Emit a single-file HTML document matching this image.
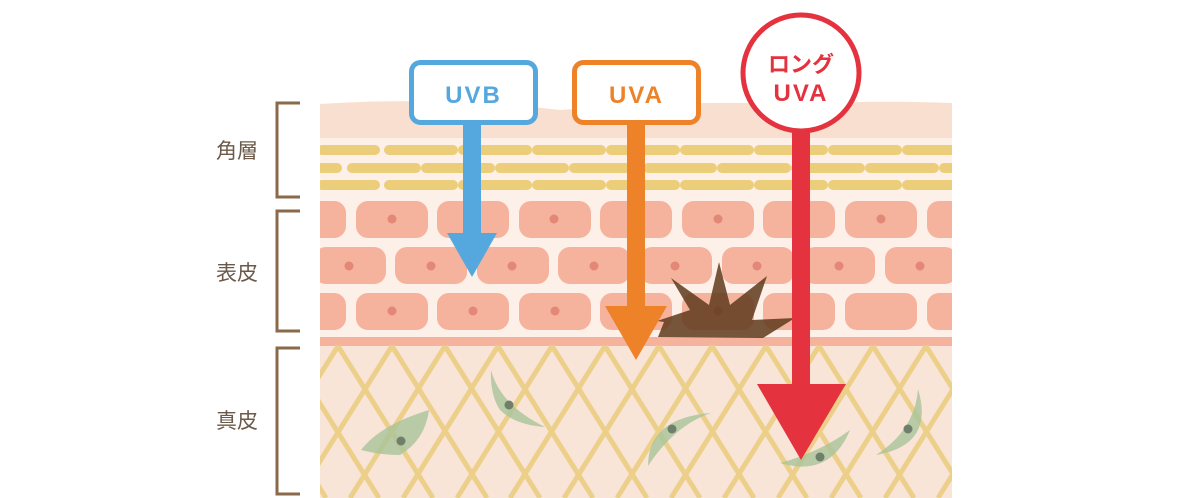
<!DOCTYPE html>
<html><head><meta charset="utf-8"><style>
html,body{margin:0;padding:0;background:#fff;}
svg{display:block;}
text{font-family:"Liberation Sans","Noto Sans CJK JP",sans-serif;}
</style></head><body>
<svg width="1188" height="498" viewBox="0 0 1188 498" xmlns="http://www.w3.org/2000/svg">
<defs>
<clipPath id="derm"><rect x="320" y="345" width="632" height="153"/></clipPath>
<clipPath id="skin"><rect x="320" y="0" width="632" height="498"/></clipPath>
</defs>
<path d="M320 104 Q450 96 560 110 Q680 100 800 104 Q880 100 952 103 L952 140 L320 140 Z" fill="#f9dfd0"/>
<rect x="320" y="138" width="632" height="199" fill="#fdf0e8"/>
<g clip-path="url(#skin)" stroke="#ecce7a" stroke-width="10" stroke-linecap="round">
<path d="M322 150H375M389 150H453M463 150H527M537 150H601M611 150H675M685 150H749M759 150H823M833 150H897M907 150H971" />
<path d="M300 168H337M352 168H416M426 168H490M500 168H564M574 168H638M648 168H712M722 168H786M796 168H860M870 168H934M944 168H1000"/>
<path d="M322 185H375M389 185H453M463 185H527M537 185H601M611 185H675M685 185H749M759 185H823M833 185H897M907 185H971"/>
</g>
<g clip-path="url(#skin)" fill="#f5b29c">
<g id="r1">
<rect x="274" y="201" width="72" height="37" rx="12"/><rect x="356" y="201" width="72" height="37" rx="12"/><rect x="437" y="201" width="72" height="37" rx="12"/><rect x="519" y="201" width="72" height="37" rx="12"/><rect x="600" y="201" width="72" height="37" rx="12"/><rect x="682" y="201" width="72" height="37" rx="12"/><rect x="763" y="201" width="72" height="37" rx="12"/><rect x="845" y="201" width="72" height="37" rx="12"/><rect x="927" y="201" width="72" height="37" rx="12"/>
</g>
<rect x="314" y="247" width="72" height="37" rx="12"/><rect x="395" y="247" width="72" height="37" rx="12"/><rect x="477" y="247" width="72" height="37" rx="12"/><rect x="558" y="247" width="72" height="37" rx="12"/><rect x="640" y="247" width="72" height="37" rx="12"/><rect x="722" y="247" width="72" height="37" rx="12"/><rect x="803" y="247" width="72" height="37" rx="12"/><rect x="885" y="247" width="72" height="37" rx="12"/>
<use href="#r1" y="92"/>
</g>
<g fill="#e38877">
<circle cx="392" cy="219" r="4.5"/><circle cx="554" cy="219" r="4.5"/><circle cx="718" cy="219" r="4.5"/><circle cx="881" cy="219" r="4.5"/>
<circle cx="349" cy="266" r="4.5"/><circle cx="431" cy="266" r="4.5"/><circle cx="512" cy="266" r="4.5"/><circle cx="594" cy="266" r="4.5"/><circle cx="675" cy="266" r="4.5"/><circle cx="757" cy="266" r="4.5"/><circle cx="839" cy="266" r="4.5"/><circle cx="920" cy="266" r="4.5"/>
<circle cx="392" cy="311" r="4.5"/><circle cx="473" cy="311" r="4.5"/><circle cx="555" cy="311" r="4.5"/><circle cx="718" cy="311" r="4.5"/>
</g>
<rect x="320" y="337" width="632" height="9" fill="#f5b29c"/>
<rect x="320" y="346" width="632" height="152" fill="#f9e4d8"/>
<g clip-path="url(#derm)" stroke="#ecd08a" stroke-width="5" fill="none">
<path d="M177 346 L272 498 M231 346 L326 498 M284 346 L379 498 M338 346 L433 498 M392 346 L487 498 M445 346 L540 498 M498 346 L593 498 M552 346 L647 498 M605 346 L700 498 M659 346 L754 498 M712 346 L807 498 M766 346 L861 498 M819 346 L914 498 M873 346 L968 498 M926 346 L1021 498"/>
<path d="M338 346 L243 498 M392 346 L297 498 M445 346 L350 498 M498 346 L403 498 M552 346 L457 498 M605 346 L510 498 M659 346 L564 498 M712 346 L617 498 M766 346 L671 498 M819 346 L724 498 M873 346 L778 498 M926 346 L831 498 M980 346 L885 498 M1033 346 L938 498 M1087 346 L992 498"/>
</g>
<g fill="#a9c49a" opacity="0.8">
<path d="M361 450 Q380 425 429 410 Q425 440 400 455 Q380 455 361 450 Z"/>
<path d="M491 370 Q500 405 545 427 Q515 425 500 410 Q490 395 491 370 Z"/>
<path d="M648 466 Q648 418 711 413 Q675 425 648 466 Z"/>
<path d="M780 463 Q830 478 850 430 Q820 452 780 463 Z"/>
<path d="M876 455 Q935 445 918 389 Q915 430 876 455 Z"/>
</g>
<g fill="#6e806a"><circle cx="401" cy="441" r="4.5"/><circle cx="509" cy="405" r="4.5"/><circle cx="672" cy="429" r="4.5"/><circle cx="820" cy="457" r="4.5"/><circle cx="908" cy="429" r="4.5"/></g>
<path d="M658 337 L664 322 L657 321 L690 310 L671 278 L709 305 L719 262 L730 305 L767 276 L752 320 L795 318 L763 338 Z" fill="#5e3a1c" opacity="0.85"/>
<g stroke="#8a6a4a" stroke-width="3" fill="none">
<path d="M300 103H277V197H300"/><path d="M300 211H277V331H300"/><path d="M300 348H277V494H300"/>
</g>
<g fill="#6b5a4a" font-size="21"><text x="216" y="158">角層</text><text x="216" y="280">表皮</text><text x="216" y="428">真皮</text></g>
<rect x="463" y="120" width="18" height="115" fill="#55a8de"/>
<polygon points="447,233 497,233 472,277" fill="#55a8de"/>
<rect x="411.5" y="62.5" width="124" height="60" rx="9" fill="#fff" stroke="#55a8de" stroke-width="5"/>
<text x="473.5" y="103" text-anchor="middle" font-size="24" font-weight="bold" fill="#55a8de" letter-spacing="2">UVB</text>
<rect x="627" y="120" width="18" height="188" fill="#ee8229"/>
<polygon points="605,306 667,306 636,360" fill="#ee8229"/>
<rect x="574.5" y="62.5" width="124" height="60" rx="9" fill="#fff" stroke="#ee8229" stroke-width="5"/>
<text x="636.5" y="103" text-anchor="middle" font-size="24" font-weight="bold" fill="#ee8229" letter-spacing="2">UVA</text>
<rect x="792" y="128" width="18" height="258" fill="#e5323f"/>
<polygon points="757,384 846,384 801,460" fill="#e5323f"/>
<circle cx="801" cy="73" r="58" fill="#fff" stroke="#e5323f" stroke-width="5"/>
<text x="801" y="72" text-anchor="middle" font-size="22" font-weight="bold" fill="#e5323f">ロング</text>
<text x="801" y="101" text-anchor="middle" font-size="24" font-weight="bold" fill="#e5323f" letter-spacing="2">UVA</text>
</svg>
</body></html>
